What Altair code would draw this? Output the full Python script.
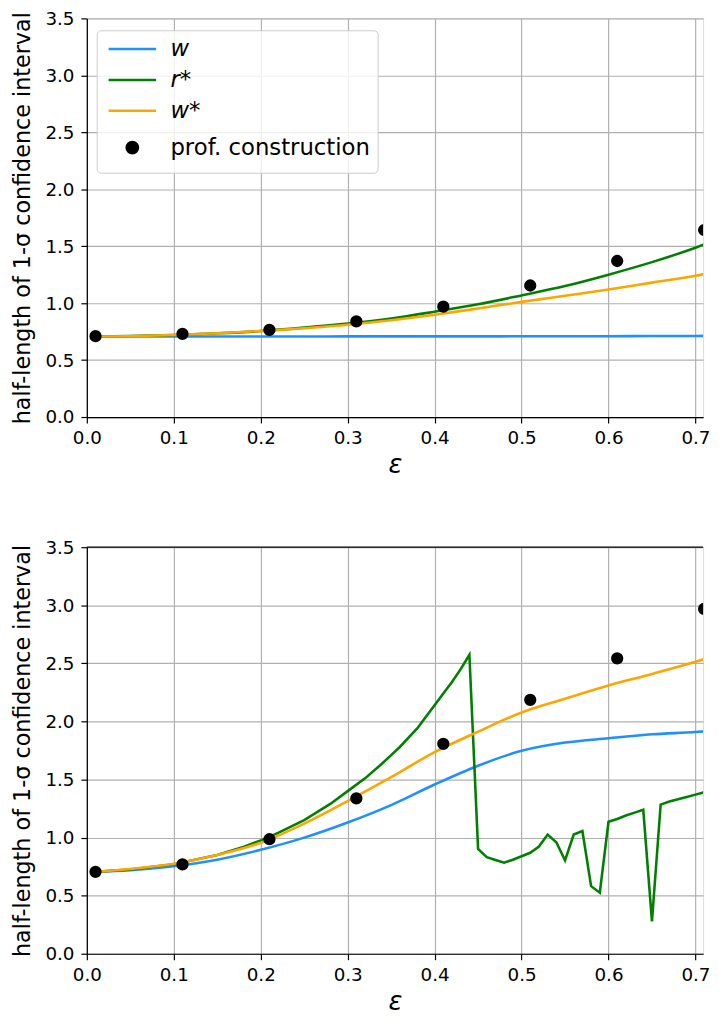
import altair as alt
import pandas as pd

# ---------------- data ----------------
SERIES = ["w", "r*", "w*", "prof. construction"]
COLORS = ["#1e90ff", "#008000", "#ffa500", "#000000"]

eps_pts = [0.01, 0.11, 0.21, 0.31, 0.41, 0.51, 0.61, 0.71]
top_prof = [0.71, 0.73, 0.765, 0.84, 0.969, 1.155, 1.37, 1.642]
bot_prof = [0.705, 0.770, 0.986, 1.338, 1.807, 2.185, 2.543, 2.969]

eps_curve = [0.01, 0.05, 0.10, 0.15, 0.20, 0.25, 0.30, 0.35, 0.40, 0.45,
             0.50, 0.55, 0.60, 0.65, 0.70, 0.72]
top_w = [0.707, 0.707, 0.707, 0.707, 0.707, 0.707, 0.708, 0.708, 0.708, 0.708,
         0.709, 0.709, 0.710, 0.711, 0.712, 0.713]
top_rstar = [0.707, 0.712, 0.72, 0.735, 0.755, 0.785, 0.82, 0.865, 0.925, 0.99,
             1.068, 1.15, 1.25, 1.36, 1.487, 1.545]
top_wstar = [0.707, 0.71, 0.72, 0.735, 0.755, 0.78, 0.81, 0.85, 0.898, 0.953,
             1.011, 1.065, 1.119, 1.18, 1.24, 1.27]

bot_w = [0.705, 0.72, 0.753, 0.81, 0.895, 1.0, 1.13, 1.28, 1.457, 1.619,
         1.747, 1.818, 1.855, 1.889, 1.909, 1.92]
bot_wstar = [0.705, 0.73, 0.775, 0.85, 0.955, 1.12, 1.315, 1.52, 1.736, 1.912,
             2.077, 2.196, 2.31, 2.409, 2.514, 2.56]

eps_rstar_bot = [0.01, 0.05, 0.10, 0.15, 0.18, 0.20, 0.22, 0.25, 0.28, 0.30,
                 0.32, 0.34, 0.35, 0.36, 0.37, 0.38, 0.39, 0.40, 0.41, 0.42,
                 0.43, 0.44, 0.45, 0.46, 0.47, 0.48, 0.49, 0.50, 0.51,
                 0.52, 0.53, 0.54, 0.55, 0.56, 0.57, 0.58, 0.59, 0.60, 0.61,
                 0.62, 0.63, 0.64, 0.65, 0.66, 0.67, 0.68, 0.69, 0.70, 0.71, 0.72]
bot_rstar = [0.706, 0.725, 0.77, 0.85, 0.92, 0.975, 1.04, 1.15, 1.29, 1.40,
             1.51, 1.64, 1.71, 1.78, 1.86, 1.94, 2.04, 2.14, 2.24, 2.34,
             2.45, 2.574, 0.903, 0.832, 0.808, 0.784, 0.81, 0.84, 0.869,
             0.923, 1.026, 0.96, 0.804, 1.026, 1.057, 0.582, 0.526, 1.136, 1.16,
             1.19, 1.215, 1.239, 0.278, 1.284, 1.31, 1.33, 1.35, 1.37, 1.39, 1.42]

x_ticks = [0.0, 0.1, 0.2, 0.3, 0.4, 0.5, 0.6, 0.7]
y_ticks = [0.0, 0.5, 1.0, 1.5, 2.0, 2.5, 3.0, 3.5]
Y_TOP = [3.5]
X_MAX = 0.7088


def lines_frame(parts):
    rows = []
    for name, xs, ys in parts:
        for a, b in zip(xs, ys):
            rows.append({"series": name, "eps": a, "val": b})
    return pd.DataFrame(rows)


top_lines = lines_frame([("w", eps_curve, top_w), ("r*", eps_curve, top_rstar),
                         ("w*", eps_curve, top_wstar)])
bot_lines = lines_frame([("w", eps_curve, bot_w), ("r*", eps_rstar_bot, bot_rstar),
                         ("w*", eps_curve, bot_wstar)])
top_pts = pd.DataFrame({"series": "prof. construction", "eps": eps_pts, "val": top_prof})
bot_pts = pd.DataFrame({"series": "prof. construction", "eps": eps_pts, "val": bot_prof})
frame_df = pd.DataFrame({"val": Y_TOP})

FONT = "DejaVu Sans"
IS_PROF = "datum.value === 'prof. construction'"
LINE_PATH = "M-2,0L2,0"
DOT_PATH = "M-0.29,0A0.29,0.29,0,1,0,0.29,0A0.29,0.29,0,1,0,-0.29,0Z"

color_scale = alt.Scale(domain=SERIES, range=COLORS)

legend = alt.Legend(
    title=None, orient="none", legendX=10, legendY=12,
    symbolType={"expr": f"{IS_PROF} ? '{DOT_PATH}' : '{LINE_PATH}'"},
    symbolSize=576, symbolOffset=17,
    symbolStrokeWidth={"expr": f"{IS_PROF} ? 7 : 2.6"},
    labelFont=FONT, labelFontSize=23,
    labelFontStyle={"expr": f"{IS_PROF} ? 'normal' : 'italic'"},
    labelOffset=27, labelLimit=0,
    padding=7.5, rowPadding=7.2,
    fillColor="rgba(255,255,255,0.8)", strokeColor="#cccccc", cornerRadius=4,
)

x_axis = alt.Axis(values=x_ticks, format=".1f", title="ε", titleFont=FONT,
                  titleFontSize=26, titleFontStyle="italic", titleFontWeight="normal",
                  titlePadding=5, labelFont=FONT, labelFontSize=18.5, labelPadding=6,
                  tickSize=6, tickWidth=1.2, tickColor="black", domainColor="black",
                  domainWidth=1.2, gridColor="#b0b0b0", gridWidth=1.2, labelColor="black",
                  titleColor="black", labelFlush=False)
y_axis = alt.Axis(values=y_ticks, format=".1f",
                  title="half-length of 1-σ confidence interval", titleFont=FONT,
                  titleFontSize=22.5, titleFontWeight="normal", titlePadding=10.8,
                  labelFont=FONT, labelFontSize=18.5, labelPadding=7,
                  tickSize=6, tickWidth=1.2, tickColor="black", domainColor="black",
                  domainWidth=1.2, gridColor="#b0b0b0", gridWidth=1.2, labelColor="black",
                  titleColor="black", labelFlush=False)

W = 623


def panel(lines_df, pts_df, height, framed, interp_rstar):
    x = alt.X("eps:Q", scale=alt.Scale(domain=[0, X_MAX], nice=False), axis=x_axis)
    y = alt.Y("val:Q", scale=alt.Scale(domain=[0, 3.5], nice=False), axis=y_axis)
    layers = []
    for i, s in enumerate(["w", "r*", "w*"]):
        interp = interp_rstar if s == "r*" else "monotone"
        layers.append(
            alt.Chart(lines_df).transform_filter(alt.datum.series == s)
            .mark_line(strokeWidth=2.6, clip=True, interpolate=interp)
            .encode(x=x, y=y, order="eps:Q",
                    color=alt.Color("series:N", scale=color_scale,
                                    legend=legend if i == 0 else None))
        )
    layers.append(
        alt.Chart(pts_df).mark_circle(size=154, opacity=1, clip=True)
        .encode(x=x, y=y, color=alt.Color("series:N", scale=color_scale, legend=None))
    )
    if framed:
        layers.append(
            alt.Chart(frame_df).mark_rule(color="black", strokeWidth=1.2)
            .encode(y=alt.Y("val:Q", scale=alt.Scale(domain=[0, 3.5], nice=False),
                            axis=y_axis))
        )
    return alt.layer(*layers).properties(width=W, height=height)


top = panel(top_lines, top_pts, 403, False, "monotone")
bot = panel(bot_lines, bot_pts, 411, True, "linear")

chart = alt.vconcat(top, bot, spacing=59.6).properties(
    padding={"left": 2.7, "top": -5, "right": 0, "bottom": -5.5}
).configure_view(stroke=None).configure(font=FONT)

chart.save("out.html", embed_options={"renderer": "svg", "actions": False})
